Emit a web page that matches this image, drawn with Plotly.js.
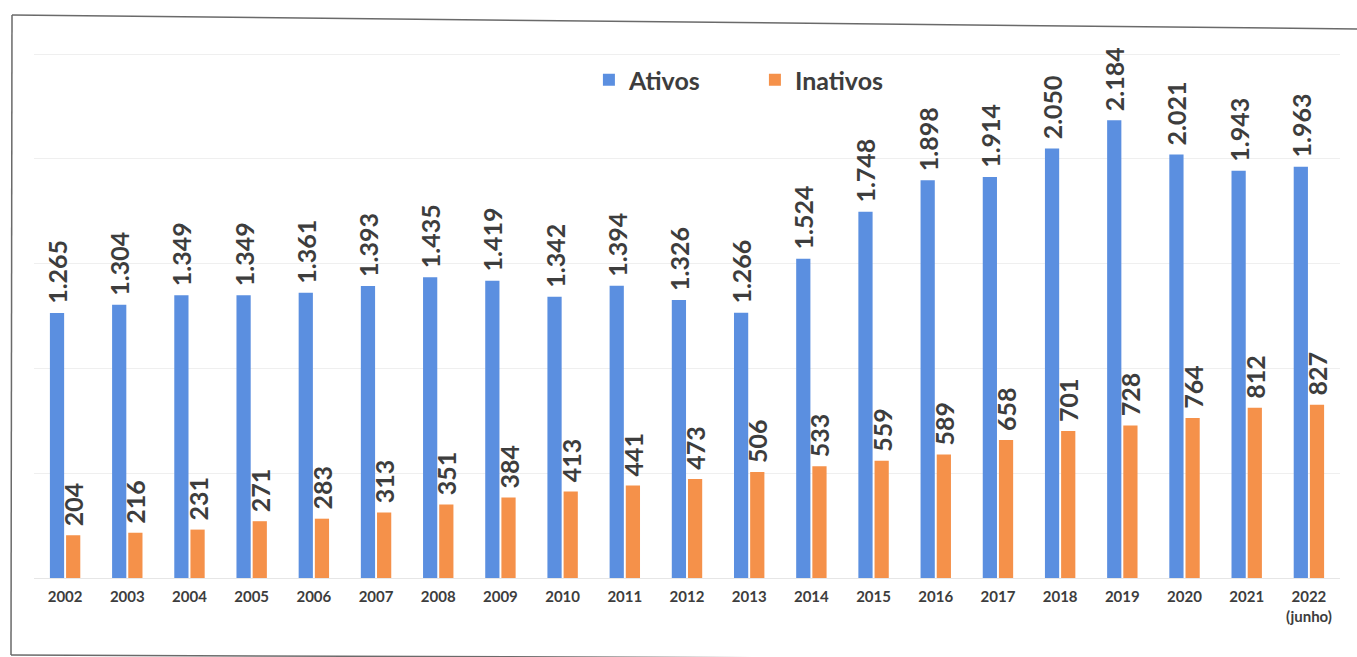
<!DOCTYPE html>
<html>
<head>
<meta charset="utf-8">
<script src="https://cdn.plot.ly/plotly-3.0.1.min.js"></script>
<style>html,body{margin:0;padding:0;background:#fff;}#chart{width:1357px;height:657px;}</style>
</head>
<body>
<div id="chart"></div>
<script>
const years = ["2002","2003","2004","2005","2006","2007","2008","2009","2010","2011","2012","2013","2014","2015","2016","2017","2018","2019","2020","2021","2022<br>(junho)"];
const ativos = [1265,1304,1349,1349,1361,1393,1435,1419,1342,1394,1326,1266,1524,1748,1898,1914,2050,2184,2021,1943,1963];
const inativos = [204,216,231,271,283,313,351,384,413,441,473,506,533,559,589,658,701,728,764,812,827];

const textColor = '#3d3d3d';
const fam = 'Lato, "Open Sans", sans-serif';

function barTrace(name, vals, color) {
  return {
    type: 'bar', name: name, x: years, y: vals,
    marker: {color: color},
    texttemplate: '\u00a0%{y:,}',
    textposition: 'outside',
    textangle: -90,
    constraintext: 'none',
    cliponaxis: false,
    outsidetextfont: {family: fam, size: 25, color: textColor, weight: 'bold'},
    hoverinfo: 'x+y'
  };
}

const data = [
  barTrace('Ativos', ativos, '#5b8fe0'),
  barTrace('Inativos', inativos, '#f5914a')
];

// frame (page border of the original figure)
const L = 34, W = 1306, B = 578, H = 526;
const px = v => (v - L) / W;
const py = v => (B - v) / H;

const layout = {
  width: 1357, height: 657,
  margin: {l: L, r: 1357 - L - W, t: B - H, b: 657 - B, pad: 0},
  paper_bgcolor: '#ffffff', plot_bgcolor: '#ffffff',
  separators: ',.',
  barmode: 'group', bargap: 0.48, bargroupgap: 0.12,
  showlegend: true,
  legend: {
    orientation: 'h', x: 0.552, y: py(80), xanchor: 'center', yanchor: 'middle',
    font: {family: fam, size: 25, color: textColor, weight: 'bold'},
    entrywidth: 121, entrywidthmode: 'pixels', itemwidth: 30, bgcolor: 'rgba(0,0,0,0)'
  },
  xaxis: {
    type: 'category', showgrid: false, zeroline: false, showline: false, ticks: '',
    tickfont: {family: fam, size: 15, color: textColor, weight: 'bold'},
    ticklabelstandoff: 8,
    fixedrange: true
  },
  yaxis: {
    range: [0, 2510], tickvals: [0, 500, 1000, 1500, 2000, 2500], showgrid: true, gridcolor: '#efefef', gridwidth: 1,
    zeroline: true, zerolinecolor: '#e6e6e6', showticklabels: false, ticks: '', showline: false,
    fixedrange: true
  },
  shapes: [
    {type: 'line', xref: 'paper', yref: 'paper', x0: px(12), y0: py(15), x1: px(1357), y1: py(29), line: {color: '#6a6a6a', width: 1.5}},
    {type: 'line', xref: 'paper', yref: 'paper', x0: px(12), y0: py(15), x1: px(11), y1: py(655), line: {color: '#6a6a6a', width: 1.5}},
    {type: 'line', xref: 'paper', yref: 'paper', x0: px(11), y0: py(655), x1: px(1357), y1: py(660), line: {color: '#6a6a6a', width: 1.5}}
  ]
};

Plotly.newPlot('chart', data, layout, {displayModeBar: false, staticPlot: true});
</script>
</body>
</html>
